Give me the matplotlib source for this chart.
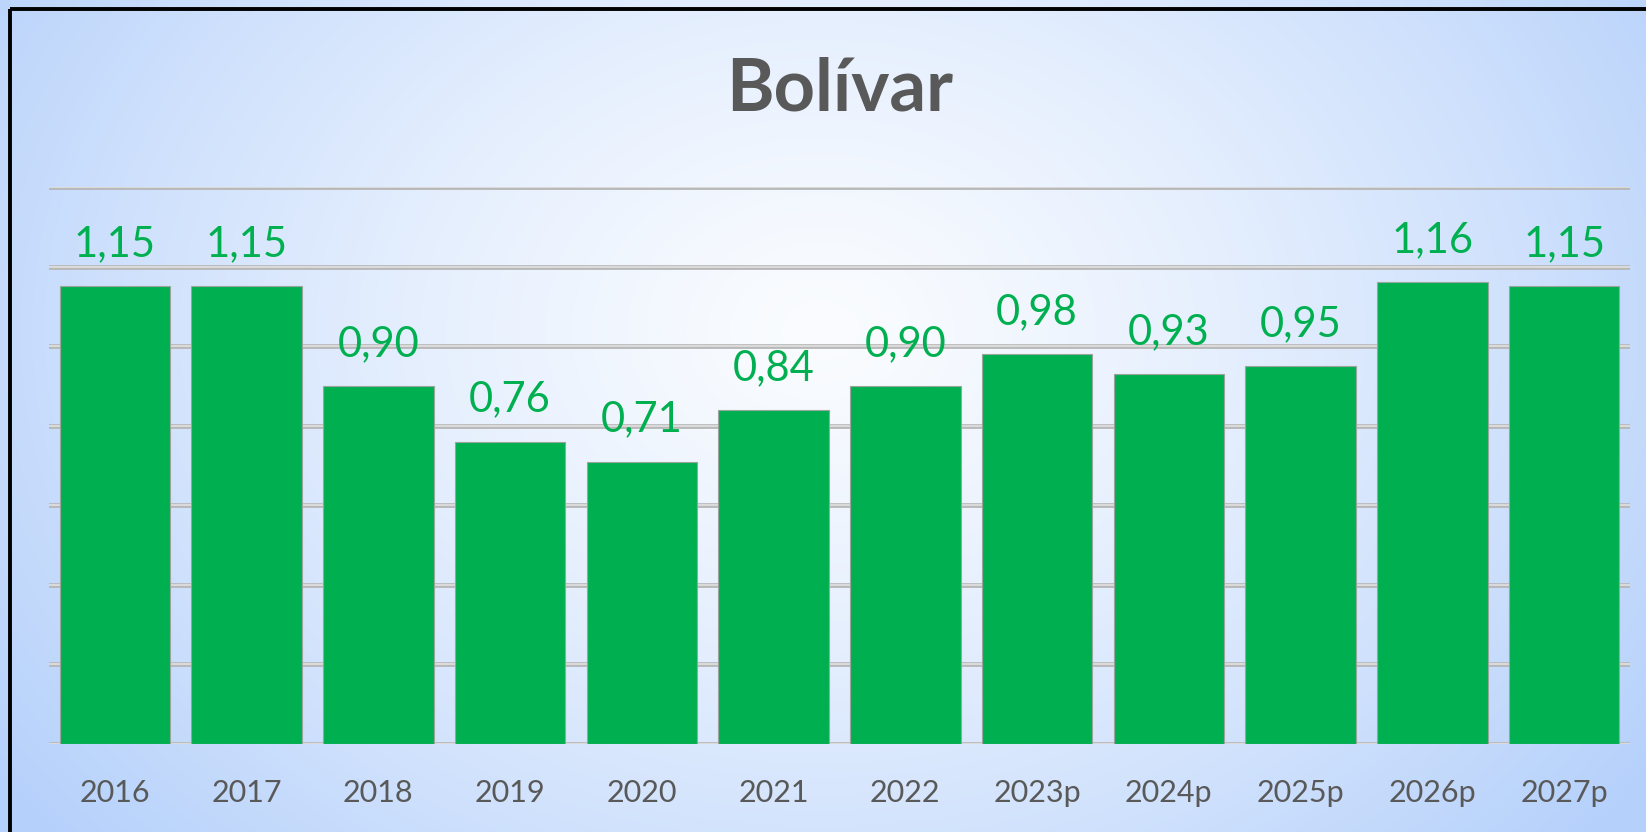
import numpy as np
import matplotlib
matplotlib.use("Agg")
from matplotlib import pyplot as plt
from matplotlib.patches import Rectangle

years = ["2016", "2017", "2018", "2019", "2020", "2021", "2022",
         "2023p", "2024p", "2025p", "2026p", "2027p"]
values = [1.15, 1.15, 0.90, 0.76, 0.71, 0.84, 0.90, 0.98, 0.93, 0.95, 1.16, 1.15]
title = "Bolívar"

W, H = 1646, 832
GREEN = "#00B050"
GRAY_TXT = "#595959"
FONT = ["Lato", "DejaVu Sans"]


def main():
  fig = plt.figure(figsize=(W / 100, H / 100), dpi=100)

  # radial gradient background
  bg = fig.add_axes([0, 0, 1, 1], zorder=0)
  yy, xx = np.mgrid[0:H, 0:W]
  r = np.sqrt(((xx - 820) / (W * 0.62)) ** 2 + ((yy - 330) / (H * 0.95)) ** 2)
  t = np.clip(r, 0, 1) ** 1.3
  white = np.array([250, 252, 255]) / 255
  blue = np.array([180, 208, 251]) / 255
  img = white[None, None, :] + (blue - white)[None, None, :] * t[:, :, None]
  bg.imshow(img, extent=[0, W, H, 0], aspect="auto")
  bg.set_xlim(0, W)
  bg.set_ylim(H, 0)
  bg.axis("off")
  # black frame (clipped on right and bottom)
  bg.add_patch(Rectangle((10, 9), W + 20, H + 20, fill=False, ec="black", lw=2.8))

  ax = fig.add_axes([49 / W, 1 - 744 / H, (1630 - 49) / W, (744 - 187) / H], zorder=1)
  ax.patch.set_alpha(0)
  x = np.arange(len(years))
  ax.set_xlim(-0.5, len(years) - 0.5)
  ax.set_ylim(0, 1.4)

  for g in np.arange(0, 1.41, 0.2):
    ax.axhline(g, color="#B4B4B4", lw=3.4, zorder=1)
    ax.axhline(g, color="#DADADA", lw=1.6, zorder=1)

  ax.bar(x, values, width=0.84, color=GREEN, edgecolor="#9AA59E", linewidth=0.8, zorder=2)

  for xi, v in zip(x, values):
    ax.annotate(f"{v:.2f}".replace(".", ","), (xi, v), xytext=(0, 30),
                textcoords="offset pixels", ha="center", va="baseline",
                color=GREEN, fontsize=30, family=FONT, zorder=3)

  for s in ax.spines.values():
    s.set_visible(False)
  ax.set_yticks([])
  ax.set_xticks(x)
  ax.set_xticklabels(years, family=FONT, fontsize=22, color=GRAY_TXT)
  ax.tick_params(axis="x", length=0, pad=25)

  fig.text(840 / W, 1 - 90 / H, title, ha="center", va="center", fontsize=52,
           fontweight="bold", color=GRAY_TXT, family=FONT)

  fig.savefig("out.png", dpi=100)


if __name__ == "__main__":
  main()
